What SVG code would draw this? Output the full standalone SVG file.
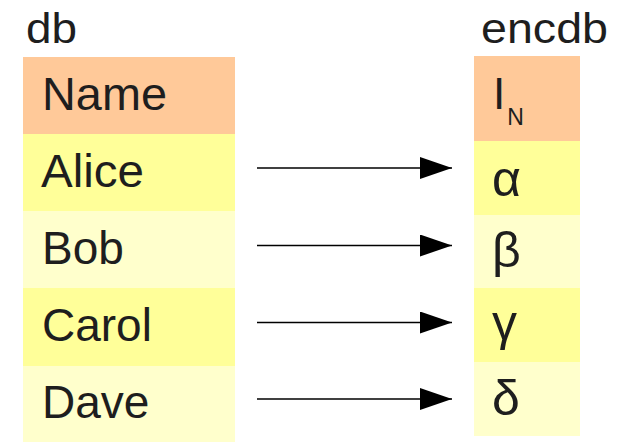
<svg xmlns="http://www.w3.org/2000/svg" width="624" height="442" viewBox="0 0 624 442">
<style>
text { font-family: "Liberation Sans", Arial, sans-serif; fill: #1e1e1e; }
.t { font-size: 46px; }
.g { font-size: 50px; }
.h { fill: #ffc999; }
.y { fill: #ffff99; }
.p { fill: #ffffcc; }
.c { stroke: #000; stroke-width: 1.3; fill: none; }
</style>
<defs>
<marker id="ah" markerUnits="userSpaceOnUse" markerWidth="32" markerHeight="22" refX="32" refY="11" orient="auto">
<polygon points="0,0 32,11 0,22" fill="#000"/>
</marker>
</defs>
<rect width="624" height="442" fill="#fff"/>
<g id="db">
<text x="26" y="43" font-size="43" textLength="51" lengthAdjust="spacingAndGlyphs">db</text>
<g id="db-name"><rect class="h" x="23" y="57" width="212" height="77"/><text class="t" x="42" y="110" textLength="125" lengthAdjust="spacingAndGlyphs">Name</text></g>
<g id="db-alice"><rect class="y" x="23" y="134" width="212" height="77"/><text class="t" x="41" y="187" textLength="103" lengthAdjust="spacingAndGlyphs">Alice</text></g>
<g id="db-bob"><rect class="p" x="23" y="211" width="212" height="77"/><text class="t" x="42" y="264">Bob</text></g>
<g id="db-carol"><rect class="y" x="23" y="288" width="212" height="78"/><text class="t" x="42" y="341">Carol</text></g>
<g id="db-dave"><rect class="p" x="23" y="366" width="212" height="76"/><text class="t" x="42" y="418">Dave</text></g>
</g>
<g id="encdb">
<text x="481" y="43" font-size="43" textLength="127" lengthAdjust="spacingAndGlyphs">encdb</text>
<g id="enc-in"><rect class="h" x="474" y="56" width="106" height="85"/><text x="493" y="109" font-size="44">I<tspan font-size="23" dx="2" dy="16">N</tspan></text></g>
<g id="enc-alpha"><rect class="y" x="474" y="141" width="106" height="74"/><text class="g" x="492" y="196">α</text></g>
<g id="enc-beta"><rect class="p" x="474" y="215" width="106" height="73"/><text class="g" x="492" y="267">β</text></g>
<g id="enc-gamma"><rect class="y" x="474" y="288" width="106" height="74"/><text class="g" x="492" y="340">γ</text></g>
<g id="enc-delta"><rect class="p" x="474" y="362" width="106" height="74"/><text class="g" x="492" y="415">δ</text></g>
</g>
<g id="connectors">
<line class="c" x1="257" y1="168" x2="452" y2="168" marker-end="url(#ah)"/>
<line class="c" x1="257" y1="245.5" x2="452" y2="245.5" marker-end="url(#ah)"/>
<line class="c" x1="257" y1="322.5" x2="452" y2="322.5" marker-end="url(#ah)"/>
<line class="c" x1="257" y1="399" x2="452" y2="399" marker-end="url(#ah)"/>
</g>
</svg>
